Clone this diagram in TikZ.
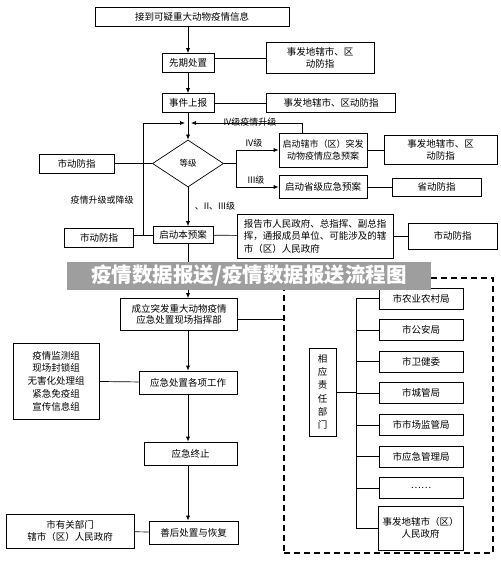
\documentclass[tikz,border=0pt]{standalone}
\usepackage{fontspec}
\setmainfont{Noto Sans CJK SC}
\usetikzlibrary{shapes.geometric,arrows.meta}

\begin{document}
\begin{tikzpicture}[x=1pt, y=-1pt, >={Latex[length=5pt,width=4pt]}, line width=0.7pt]
		\tikzset{bx/.style={draw, inner sep=1pt, align=center, font=\fontsize{9.5}{12}\selectfont}};
		\tikzset{wh/.style 2 args={minimum width=#1, minimum height=#2}};
		\tikzset{lb/.style={inner sep=0pt, font=\fontsize{9}{10}\selectfont}};

		\useasboundingbox (0,0) rectangle (500,561);

		% main column
		\node[bx, wh={194pt}{19pt}] (recv) at (192,16.5) {接到可疑重大动物疫情信息};
		\node[bx, wh={52pt}{19pt}] (pre) at (188,63) {先期处置};
		\node[bx, wh={52pt}{19pt}] (rep) at (188,103) {事件上报};
		\coordinate (j) at (188,123);
		\node[draw, diamond, aspect=1.5, wh={71pt}{47pt}, inner sep=0pt, font=\fontsize{8.5}{10}\selectfont] (lvl) at (188,163.5) {等级};
		\node[bx, wh={60pt}{17pt}] (plan) at (183,235) {启动本预案};
		\node[bx, wh={117pt}{32pt}, font=\fontsize{9.5}{11.5}\selectfont] (hq) at (179,314.5) {成立突发重大动物疫情\\应急处置现场指挥部};
		\node[bx, wh={98pt}{23pt}] (work) at (188,382.5) {应急处置各项工作};
		\node[bx, wh={93pt}{23pt}] (stop) at (190.5,453.5) {应急终止};
		\node[bx, wh={89pt}{23pt}] (after) at (193.5,532.5) {善后处置与恢复};

		% side boxes
		\node[bx, wh={108pt}{31pt}] (preR) at (320,58) {事发地辖市、区\\动防指};
		\node[bx, wh={129pt}{19pt}] (repR) at (331,103) {事发地辖市、区动防指};
		\node[bx, wh={75pt}{19pt}] (cityA) at (76.5,163.5) {市动防指};
		\node[bx, wh={69pt}{19pt}] (cityB) at (99,238) {市动防指};
		\node[bx, wh={88pt}{34pt}, font=\fontsize{9}{12}\selectfont] (cityPlan) at (323,150) {启动辖市（区）突发\\动物疫情应急预案};
		\node[bx, wh={113pt}{29pt}] (cityPlanR) at (440.5,150) {事发地辖市、区\\动防指};
		\node[bx, wh={88pt}{23pt}] (provPlan) at (323,187) {启动省级应急预案};
		\node[bx, wh={89pt}{18pt}] (prov) at (436.5,187) {省动防指};
		\node[bx, wh={156pt}{44pt}, align=left, font=\fontsize{9.5}{12.5}\selectfont] (report) at (315,236) {报告市人民政府、总指挥、副总指\\挥，通报成员单位、可能涉及的辖\\市（区）人民政府};
		\node[bx, wh={89pt}{26pt}] (cityC) at (452.5,236) {市动防指};
		\node[bx, wh={86pt}{76pt}, font=\fontsize{9.5}{12.7}\selectfont] (groups) at (56,381) {疫情监测组\\现场封锁组\\无害化处理组\\紧急免疫组\\宣传信息组};
		\node[bx, wh={128pt}{34pt}] (gov) at (70,531) {市有关部门\\辖市（区）人民政府};

		% responsible departments
		\node[draw, dashed, dash pattern=on 6pt off 4pt, line width=1.2pt, wh={209pt}{275pt}] (grp) at (388.5,415.5) {};
		\node[bx, wh={27pt}{88pt}, font=\fontsize{9.5}{13.3}\selectfont] (resp) at (322.5,392) {相\\应\\责\\任\\部\\门};
		\coordinate (bus) at (356,0);
		\foreach \t [count=\i] in {市农业农村局, 市公安局, 市卫健委, 市城管局, 市市场监管局, 市应急管理局, ……}
			\node[bx, wh={84pt}{21pt}] (d\i) at (421,298.5+31.6*\i-31.6) {\t};
		\node[bx, wh={85pt}{44pt}] (d8) at (420.5,528) {事发地辖市（区）\\人民政府};

		\draw[->] (pre |- recv.south) -- (pre);
		\draw[->] (pre) -- (rep);
		\draw[->] (rep) -- (lvl);
		\draw (pre.east |- preR) -- (preR);
		\draw (rep) -- (repR);

		\draw (cityA) -- (lvl);
		\draw[->, shorten >=3pt] (plan.west) -| (143,123) -- (j);
		\node[lb] (upDown) at (102,200) {疫情升级或降级};

		\coordinate (fk) at (236,163.5);
		\draw (lvl) -- (fk);
		\draw[->] (fk) |- (cityPlan);
		\draw[->] (fk) |- (provPlan);
		\node[lb] (lv4) at (254,143) {IV级};
		\node[lb] (lv3) at (256,180) {III级};
		\draw (cityPlan) -- (cityPlanR);
		\draw (provPlan) -- (prov);

		\coordinate (up) at (302,123);
		\draw[->, shorten >=3pt] (cityPlan.north -| up) -- (up) -- (j);
		\node[lb] (lv4up) at (250,122) {IV级疫情升级};

		\draw[->] (lvl) -- (plan.north -| lvl);
		\node[lb] (lv123) at (215,206) {、II、III级};
		\draw (cityB.east |- plan) -- (plan);
		\draw (plan) -- (report);
		\draw (report) -- (cityC);

		\draw[->] (plan.south -| lvl) -- (hq.north -| lvl);
		\draw (hq.east |- 0,319) -- (grp.west |- 0,319);
		\draw[->] (hq.south -| lvl) -- (work.north -| lvl);
		\draw (groups) -- (work);
		\draw[->] (work.south -| lvl) -- (stop.north -| lvl);
		\draw[->] (stop.south -| lvl) -- (after.north -| lvl);
		\draw (gov) -- (after);

		\draw (d1 -| bus) -- (d8 -| bus);
		\draw (resp) -- (resp -| bus);
		\foreach \i in {1,...,8}
			\draw (d\i -| bus) -- (d\i);

		% banner
		\node[fill=black!38, text=white, wh={364pt}{28pt}, inner sep=0pt, font=\fontsize{20.5}{22}\selectfont\bfseries] (banner) at (249,276) {疫情数据报送/疫情数据报送流程图};
	\end{tikzpicture}
\end{document}
